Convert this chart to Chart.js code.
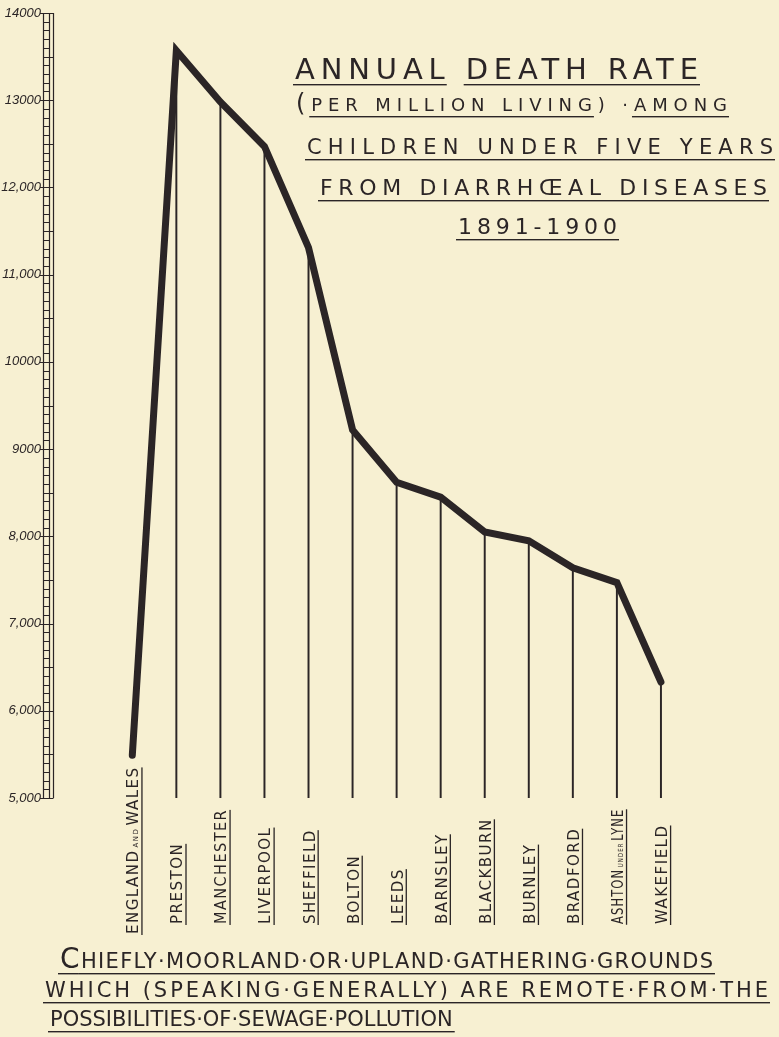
<!DOCTYPE html>
<html>
<head>
<meta charset="utf-8">
<script src="https://cdn.jsdelivr.net/npm/chart.js@4/dist/chart.umd.min.js"></script>
<style>
  html, body { margin: 0; padding: 0; background: #f7f0d2; }
  #wrap { width: 779px; height: 1037px; }
</style>
</head>
<body>
<div id="wrap"><canvas id="chart" width="779" height="1037"></canvas></div>
<script>
// lowercase words in a place name are drawn as small capitals
const places = [
  'ENGLAND and WALES', 'PRESTON', 'MANCHESTER', 'LIVERPOOL', 'SHEFFIELD', 'BOLTON',
  'LEEDS', 'BARNSLEY', 'BLACKBURN', 'BURNLEY', 'BRADFORD', 'ASHTON under LYNE', 'WAKEFIELD'
]
const deathRates = [5490, 13570, 12980, 12470, 11310, 9220, 8620, 8450, 8050, 7950, 7640, 7470, 6330]

const yTickValues = [5000, 6000, 7000, 8000, 9000, 10000, 11000, 12000, 13000, 14000]
const yTickLabels = ['5,000', '6,000', '7,000', '8,000', '9000', '10000', '11,000', '12,000', '13000', '14000']

// [text, underlined, bigger initial]
const titleLines = [
  [['ANNUAL', true], [' ', false], ['DEATH RATE', true]],
  [['(', false, true], ['PER MILLION LIVING', true], [') ·', false], ['AMONG', true]],
  [['CHILDREN UNDER FIVE YEARS', true]],
  [['FROM DIARRHŒAL DISEASES', true]],
  [['1891-1900', true]]
]
const noteLines = [
  [['C', true, true], ['HIEFLY·MOORLAND·OR·UPLAND·GATHERING·GROUNDS', true]],
  [['WHICH (SPEAKING·GENERALLY) ARE REMOTE·FROM·THE', true]],
  [['POSSIBILITIES·OF·SEWAGE·POLLUTION', true]]
]

const INK = '#2b2526'
const PAPER = '#f7f0d2'
const FONT = '"DejaVu Sans", "Liberation Sans", sans-serif'

function letterLine(ctx, parts, x, baseline, width, size) {
  const fontFor = p => `${p[2] ? Math.round(size * 1.35) : size}px ${FONT}`
  ctx.letterSpacing = '0px'
  let natural = 0, count = 0
  parts.forEach(p => {
    ctx.font = fontFor(p)
    natural += ctx.measureText(p[0]).width
    count += p[0].length
  })
  const spacing = Math.max(0, (width - natural) / (count - 1))
  ctx.letterSpacing = spacing + 'px'
  let cx = x
  parts.forEach((p, k) => {
    ctx.font = fontFor(p)
    const w = ctx.measureText(p[0]).width
    ctx.fillText(p[0], cx, baseline)
    const last = k === parts.length - 1 || !parts[k + 1][1]
    if (p[1]) ctx.fillRect(cx - 2, baseline + 5, w + (last ? 4 - spacing : 0), 1.4)
    cx += w
  })
  ctx.letterSpacing = '0px'
}

function placeLabel(ctx, name, x, bottom, topLimit) {
  const words = name.split(' ').map(w => {
    const small = w === w.toLowerCase()
    return { t: w.toUpperCase(), font: (small ? '7px ' : '15px ') + FONT }
  })
  ctx.save()
  ctx.letterSpacing = '1.5px'
  let len = 0
  words.forEach(w => { ctx.font = w.font; w.w = ctx.measureText(w.t).width; len += w.w + 2 })
  const squeeze = topLimit && bottom - len < topLimit ? (bottom - topLimit) / len : 1
  ctx.translate(x, bottom)
  ctx.rotate(-Math.PI / 2)
  ctx.scale(squeeze, 1)
  let cx = 0
  words.forEach(w => {
    ctx.font = w.font
    ctx.fillText(w.t, cx, 0)
    cx += w.w + 2
  })
  ctx.fillRect(-1, 3, cx - 2, 1.3)
  ctx.restore()
}

const lettering = {
  id: 'lettering',
  beforeDraw(chart) {
    const ctx = chart.ctx
    ctx.save()
    ctx.fillStyle = PAPER
    ctx.fillRect(0, 0, chart.width, chart.height)
    ctx.restore()
  },
  beforeDatasetsDraw(chart) {
    // ladder scale on the left
    const ctx = chart.ctx
    const y = chart.scales.y
    const top = y.getPixelForValue(14000)
    const bot = y.getPixelForValue(5000)
    ctx.save()
    ctx.strokeStyle = INK
    ctx.lineWidth = 1.2
    ctx.beginPath()
    ;[43.5, 49.5, 53.5].forEach(px => { ctx.moveTo(px, top); ctx.lineTo(px, bot) })
    for (let v = 5000; v <= 14000; v += 100) {
      const py = Math.round(y.getPixelForValue(v)) + 0.5
      let x0 = 43.5, x1 = 49.5
      if (v % 500 === 0) x1 = 53.5
      if (v % 1000 === 0) x0 = 40
      ctx.moveTo(x0, py); ctx.lineTo(x1, py)
    }
    ctx.stroke()
    ctx.restore()
  },
  afterDraw(chart) {
    const ctx = chart.ctx
    const x = chart.scales.x
    const base = chart.scales.y.getPixelForValue(5000)
    ctx.save()
    ctx.fillStyle = INK
    ctx.textBaseline = 'alphabetic'
    places.forEach((p, i) => {
      if (i === 0) placeLabel(ctx, p, x.getPixelForValue(i) + 6, 934, 0)
      else placeLabel(ctx, p, x.getPixelForValue(i) + 6, 924, base + 9)
    })
    letterLine(ctx, titleLines[0], 295, 79, 403, 29)
    letterLine(ctx, titleLines[1], 296, 111, 431, 18)
    letterLine(ctx, titleLines[2], 307, 154, 466, 21)
    letterLine(ctx, titleLines[3], 320, 195, 447, 22)
    letterLine(ctx, titleLines[4], 458, 234, 159, 22)
    letterLine(ctx, noteLines[0], 60, 968, 653, 21)
    letterLine(ctx, noteLines[1], 45, 997, 723, 21)
    letterLine(ctx, noteLines[2], 50, 1026, 397, 21)
    ctx.restore()
  }
}

new Chart(document.getElementById('chart'), {
  type: 'bar',
  data: {
    datasets: [
      {
        type: 'line',
        data: deathRates.map((v, i) => ({ x: i, y: v })),
        borderColor: INK,
        borderWidth: 7,
        borderJoinStyle: 'miter',
        borderCapStyle: 'round',
        pointRadius: 0,
        tension: 0,
        order: 0
      },
      {
        type: 'bar',
        data: deathRates.slice(1).map((v, i) => ({ x: i + 1, y: v })),
        backgroundColor: INK,
        barThickness: 1.3,
        order: 1
      }
    ]
  },
  options: {
    responsive: false,
    animation: false,
    layout: { padding: { left: 0, top: 13, right: 74, bottom: 239 } },
    plugins: { legend: { display: false }, tooltip: { enabled: false } },
    scales: {
      x: { type: 'linear', min: -1.8, max: 13, offset: false, display: false },
      y: {
        min: 5000,
        max: 14000,
        afterFit: s => { s.width = 53 },
        afterBuildTicks: s => { s.ticks = yTickValues.map(v => ({ value: v })) },
        grid: { drawOnChartArea: false, tickLength: 10, color: 'rgba(0,0,0,0)' },
        border: { display: false },
        ticks: {
          padding: 2,
          color: INK,
          font: { family: '"Liberation Sans Narrow", "Liberation Sans", sans-serif', size: 13, style: 'italic' },
          callback: v => yTickLabels[yTickValues.indexOf(v)]
        }
      }
    }
  },
  plugins: [lettering]
})
</script>
</body>
</html>
